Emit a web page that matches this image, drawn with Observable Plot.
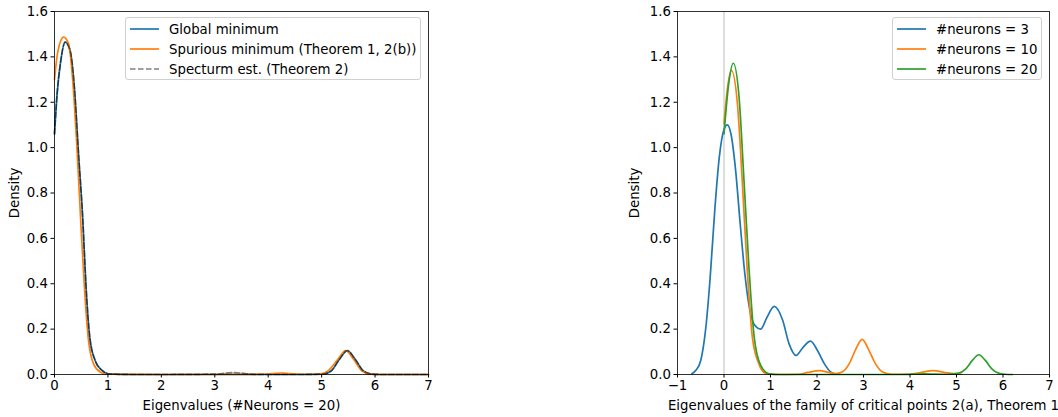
<!DOCTYPE html>
<html>
<head>
<meta charset="utf-8">
<script src="https://cdn.jsdelivr.net/npm/d3@7"></script>
<script src="https://cdn.jsdelivr.net/npm/@observablehq/plot@0.6"></script>
<style>
  html, body { margin: 0; padding: 0; background: white; }
  #wrap { position: relative; width: 1058px; height: 417px; font-family: "DejaVu Sans", sans-serif; }
  .panel { position: absolute; top: 0; }
  .legend { position: absolute; border: 1px solid #d0d0d0; border-radius: 3px; background: rgba(255,255,255,0.85); box-sizing: border-box; font-size: 13.3px; color: #000; }
  .row { position: absolute; left: 0; height: 20px; display: flex; align-items: center; white-space: nowrap; }
  .row svg { margin-left: 4px; margin-right: 10px; }
</style>
</head>
<body>
<div id="wrap"></div>
<script>
// ---------- Left panel data ----------
const globalX = [0, 0.05, 0.11, 0.2, 0.29, 0.37, 0.45, 0.53, 0.59, 0.66, 0.76, 0.89, 1.01, 1.5, 2, 3, 4, 4.6, 5.03, 5.18, 5.33, 5.48, 5.63, 5.78, 5.93, 6.1, 7];
const globalY = [1.06, 1.24, 1.37, 1.465, 1.43, 1.27, 0.97, 0.68, 0.385, 0.164, 0.062, 0.018, 0.003, 0, 0, 0, 0, 0, 0.002, 0.016, 0.066, 0.105, 0.066, 0.016, 0.002, 0, 0];

const spuriousX = [0, 0.06, 0.17, 0.26, 0.34, 0.42, 0.49, 0.56, 0.63, 0.73, 0.86, 0.98, 2, 3, 3.9, 4.1, 4.25, 4.4, 4.6, 4.97, 5.12, 5.3, 5.45, 5.6, 5.75, 5.9, 6.1, 7];
const spuriousY = [1.30, 1.42, 1.487, 1.46, 1.30, 1.00, 0.68, 0.385, 0.164, 0.047, 0.01, 0.001, 0, 0, 0.001, 0.004, 0.006, 0.004, 0.001, 0.002, 0.016, 0.066, 0.105, 0.066, 0.016, 0.002, 0, 0];

const estX = [0, 0.05, 0.11, 0.2, 0.29, 0.37, 0.45, 0.53, 0.59, 0.66, 0.76, 0.89, 1.01, 1.5, 2, 3.05, 3.2, 3.35, 3.5, 3.65, 4, 4.6, 5.03, 5.18, 5.33, 5.48, 5.63, 5.78, 5.93, 6.1, 7];
const estY = [1.06, 1.24, 1.37, 1.465, 1.43, 1.27, 0.97, 0.68, 0.385, 0.164, 0.062, 0.018, 0.003, 0, 0, 0.002, 0.006, 0.008, 0.006, 0.002, 0, 0, 0.002, 0.016, 0.066, 0.105, 0.066, 0.016, 0.002, 0, 0];

// ---------- Right panel data ----------
const n3X = [-0.69, -0.6, -0.5, -0.4, -0.3, -0.2, -0.1, 0, 0.07, 0.15, 0.25, 0.35, 0.45, 0.55, 0.65, 0.79, 0.92, 1.08, 1.26, 1.4, 1.55, 1.7, 1.86, 2.01, 2.16, 2.3, 2.4];
const n3Y = [0.003, 0.02, 0.062, 0.19, 0.42, 0.72, 0.96, 1.08, 1.10, 1.06, 0.90, 0.66, 0.44, 0.29, 0.22, 0.20, 0.25, 0.30, 0.24, 0.135, 0.084, 0.12, 0.147, 0.106, 0.047, 0.01, 0.002];

const n10X = [0, 0.08, 0.16, 0.29, 0.40, 0.50, 0.61, 0.75, 0.9, 1.1, 1.6, 1.8, 2.05, 2.25, 2.4, 2.55, 2.7, 2.83, 2.97, 3.11, 3.25, 3.4, 3.6, 4.0, 4.2, 4.5, 4.8, 5.1];
const n10Y = [1.105, 1.27, 1.34, 1.19, 0.825, 0.46, 0.164, 0.047, 0.005, 0, 0.001, 0.009, 0.017, 0.009, 0.004, 0.012, 0.05, 0.11, 0.155, 0.11, 0.05, 0.012, 0.001, 0.001, 0.007, 0.017, 0.007, 0.001];

const n20X = [0, 0.1, 0.2, 0.325, 0.43, 0.54, 0.65, 0.79, 0.97, 1.2, 3.8, 4.3, 4.8, 5.05, 5.2, 5.34, 5.48, 5.62, 5.76, 5.9, 6.05, 6.2];
const n20Y = [1.06, 1.28, 1.372, 1.22, 0.855, 0.46, 0.164, 0.04, 0.003, 0, 0, 0.003, 0.001, 0.006, 0.025, 0.062, 0.087, 0.062, 0.025, 0.006, 0.001, 0];

const yTicks = [0, 0.2, 0.4, 0.6, 0.8, 1.0, 1.2, 1.4, 1.6];
const xTicksLeft = [0, 1, 2, 3, 4, 5, 6, 7];
const xTicksRight = [-1, 0, 1, 2, 3, 4, 5, 6, 7];

const leftLabels = ["Global minimum", "Spurious minimum (Theorem 1, 2(b))", "Specturm est. (Theorem 2)"];
const rightLabels = ["#neurons = 3", "#neurons = 10", "#neurons = 20"];

const BLUE = "#1f77b4", ORANGE = "#ff7f0e", GREEN = "#2ca02c";

const zip = (xs, ys) => xs.map((x, i) => ({x, y: ys[i]}));
const fmtY = d3.format(".1f");
const fmtX = d3.format("d");

const common = {
  height: 417, marginTop: 11, marginBottom: 43,
  style: {fontFamily: "DejaVu Sans, sans-serif", fontSize: "13.3px", color: "#000", background: "transparent", overflow: "visible"},
  y: {domain: [0, 1.6]}
};

function axes(xTicks, xLabel, yOffset) {
  return [
    Plot.axisY({ticks: yTicks, tickFormat: fmtY, tickSize: 3.5, tickPadding: 3, label: "Density", labelAnchor: "center", labelArrow: "none", labelOffset: yOffset}),
    Plot.axisX({ticks: xTicks, tickFormat: fmtX, tickSize: 3.5, tickPadding: 3, label: xLabel, labelAnchor: "center", labelArrow: "none", labelOffset: 35}),
    Plot.frame({stroke: "#000", strokeWidth: 0.8})
  ];
}

const left = Plot.plot({
  ...common, width: 440, marginLeft: 54, marginRight: 12,
  x: {domain: [0, 7]},
  marks: [
    Plot.line(zip(globalX, globalY), {x: "x", y: "y", stroke: BLUE, strokeWidth: 1.7, curve: "monotone-x"}),
    Plot.line(zip(spuriousX, spuriousY), {x: "x", y: "y", stroke: ORANGE, strokeWidth: 1.7, curve: "monotone-x"}),
    Plot.line(zip(estX, estY), {x: "x", y: "y", stroke: "#000", strokeOpacity: 0.5, strokeWidth: 1.7, strokeDasharray: "5.5,2.5", curve: "monotone-x"}),
    ...axes(xTicksLeft, "Eigenvalues (#Neurons = 20)", 45)
  ]
});

const right = Plot.plot({
  ...common, width: 458, marginLeft: 77, marginRight: 9,
  x: {domain: [-1, 7]},
  marks: [
    Plot.ruleX([0], {stroke: "#d3d3d3", strokeWidth: 1.5}),
    Plot.line(zip(n3X, n3Y), {x: "x", y: "y", stroke: BLUE, strokeWidth: 1.7, curve: "monotone-x"}),
    Plot.line(zip(n10X, n10Y), {x: "x", y: "y", stroke: ORANGE, strokeWidth: 1.7, curve: "monotone-x"}),
    Plot.line(zip(n20X, n20Y), {x: "x", y: "y", stroke: GREEN, strokeWidth: 1.7, curve: "monotone-x"}),
    ...axes(xTicksRight, "Eigenvalues of the family of critical points 2(a), Theorem 1", 48)
  ]
});

const wrap = document.getElementById("wrap");
left.classList.add("panel"); left.style.left = "0px";
right.classList.add("panel"); right.style.left = "600px";
wrap.appendChild(left);
wrap.appendChild(right);

function legend(x, y, w, h, labels, styles) {
  const box = document.createElement("div");
  box.className = "legend";
  Object.assign(box.style, {left: x + "px", top: y + "px", width: w + "px", height: h + "px"});
  labels.forEach((lab, i) => {
    const row = document.createElement("div");
    row.className = "row";
    row.style.top = (1 + i * 20) + "px";
    const s = styles[i];
    row.innerHTML = `<svg width="29" height="6"><line x1="0" x2="29" y1="3" y2="3" stroke="${s.stroke}" stroke-opacity="${s.opacity || 1}" stroke-width="1.7" ${s.dash ? `stroke-dasharray="${s.dash}"` : ""}/></svg><span></span>`;
    row.querySelector("span").textContent = lab;
    box.appendChild(row);
  });
  wrap.appendChild(box);
}

legend(125, 17, 296, 63, leftLabels, [{stroke: BLUE}, {stroke: ORANGE}, {stroke: "#000", opacity: 0.5, dash: "5.5,2.5"}]);
legend(892, 17, 150, 63, rightLabels, [{stroke: BLUE}, {stroke: ORANGE}, {stroke: GREEN}]);
</script>
</body>
</html>
